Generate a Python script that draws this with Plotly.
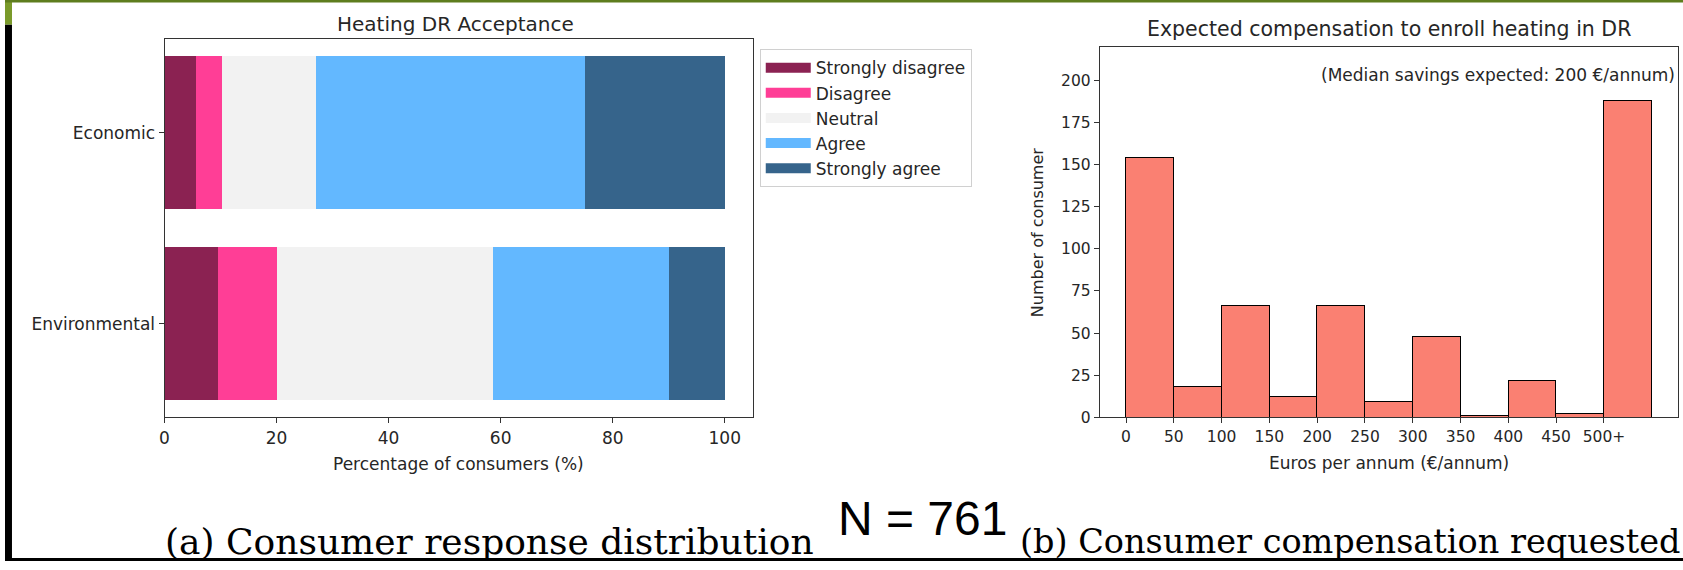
import plotly.graph_objects as go

# ---------------- data ----------------
statements = ["Environmental", "Economic"]
responses = ["Strongly disagree", "Disagree", "Neutral", "Agree", "Strongly agree"]
resp_colors = ["#8B2252", "#FF3E96", "#F2F2F2", "#63B8FF", "#36648B"]
# percentages, order: [Environmental, Economic]
strongly_disagree = [9.4, 5.5]
disagree = [10.6, 4.7]
neutral = [38.5, 16.8]
agree = [31.5, 48.0]
strongly_agree = [10.0, 25.0]
resp_values = [strongly_disagree, disagree, neutral, agree, strongly_agree]

bin_edges = [0, 50, 100, 150, 200, 250, 300, 350, 400, 450, 500, 550]
bin_counts = [154, 18, 66, 12, 66, 9, 48, 1, 22, 2, 188]
tick_vals = [0, 50, 100, 150, 200, 250, 300, 350, 400, 450, 500]
tick_text = ["0", "50", "100", "150", "200", "250", "300", "350", "400", "450", "500+"]
median_saving = 200
n_respondents = 761

W, H = 1683, 570
def px(x):
    return x / W
def py(y):
    return 1 - y / H

FONT = "DejaVu Sans"
TXT = "#262626"

fig = go.Figure()

for name, vals, col in zip(responses, resp_values, resp_colors):
    fig.add_trace(go.Bar(
        y=statements, x=vals, name=name, orientation="h",
        marker=dict(color=col, line=dict(width=0)), width=0.8,
        legendgroup=name, showlegend=False, xaxis="x", yaxis="y",
    ))
# legend entries (wide swatches like the original)
for name, col in zip(responses, resp_colors):
    fig.add_trace(go.Scatter(
        x=[None], y=[None], mode="lines", name=name, legendgroup=name,
        line=dict(color=col, width=12), xaxis="x", yaxis="y", hoverinfo="skip",
    ))

centers = [(bin_edges[i] + bin_edges[i + 1]) / 2 for i in range(len(bin_counts))]
widths = [bin_edges[i + 1] - bin_edges[i] for i in range(len(bin_counts))]
fig.add_trace(go.Bar(
    x=centers, y=bin_counts, width=widths, showlegend=False,
    marker=dict(color="#FA8072", line=dict(color="black", width=1.1)),
    xaxis="x2", yaxis="y2",
))

def axis_common(size):
    return dict(showline=True, linecolor="#333333", linewidth=1, mirror=True,
                ticks="outside", ticklen=5, tickcolor="#333333", showgrid=False,
                zeroline=False, tickfont=dict(family=FONT, size=size, color=TXT))

fig.update_layout(
    width=W, height=H,
    margin=dict(l=0, r=0, t=0, b=0),
    paper_bgcolor="white", plot_bgcolor="white",
    barmode="stack", bargap=0,
    font=dict(family=FONT, color=TXT),
    xaxis=dict(domain=[px(160), px(750)], range=[0, 105], tickvals=[0, 20, 40, 60, 80, 100],
               anchor="y", **axis_common(17)),
    yaxis=dict(domain=[py(424), py(40)], range=[-0.49, 1.49], type="category",
               categoryorder="array", categoryarray=statements, anchor="x", **axis_common(17)),
    xaxis2=dict(domain=[px(1098), px(1678)], range=[-27.5, 577.5], tickvals=tick_vals,
                ticktext=tick_text, anchor="y2", **axis_common(15.5)),
    yaxis2=dict(domain=[py(424), py(47.5)], range=[0, 220], dtick=25, anchor="x2",
                **axis_common(15.5)),
    legend=dict(x=px(757), y=py(50), xanchor="left", yanchor="top",
                bordercolor="#d0d0d0", borderwidth=1, bgcolor="white",
                font=dict(family=FONT, size=17, color=TXT),
                traceorder="normal", tracegroupgap=3, itemwidth=45),
    showlegend=True,
)

annos = [
    dict(text="Heating DR Acceptance", x=px(452), y=py(24), size=20),
    dict(text="Percentage of consumers (%)", x=px(455), y=py(471), size=17),
    dict(text="Expected compensation to enroll heating in DR", x=px(1388), y=py(29), size=20.5),
    dict(text="Euros per annum (€/annum)", x=px(1388), y=py(470), size=17),
]
for a in annos:
    fig.add_annotation(text=a["text"], x=a["x"], y=a["y"], xref="paper", yref="paper",
                       xanchor="center", yanchor="middle", showarrow=False,
                       font=dict(family=FONT, size=a["size"], color=TXT))
fig.add_annotation(text="Number of consumer", x=px(1035), y=py(236), xref="paper", yref="paper",
                   textangle=-90, showarrow=False, xanchor="center", yanchor="middle",
                   font=dict(family=FONT, size=16, color=TXT))
fig.add_annotation(text=f"(Median savings expected: {median_saving} €/annum)",
                   x=576, y=203, xref="x2", yref="y2", xanchor="right", yanchor="middle",
                   showarrow=False, font=dict(family=FONT, size=17, color=TXT))
fig.add_annotation(text=f"N = {n_respondents}", x=px(920), y=py(527), xref="paper", yref="paper",
                   showarrow=False, xanchor="center", yanchor="middle",
                   font=dict(family="Liberation Sans", size=48, color="black"))
fig.add_annotation(text="(a) Consumer response distribution", x=px(486), y=py(550),
                   xref="paper", yref="paper", showarrow=False, xanchor="center", yanchor="middle",
                   font=dict(family="DejaVu Serif", size=36, color="black"))
fig.add_annotation(text="(b) Consumer compensation requested", x=px(1350), y=py(550),
                   xref="paper", yref="paper", showarrow=False, xanchor="center", yanchor="middle",
                   font=dict(family="DejaVu Serif", size=33.5, color="black"))

# slide frame decoration
shapes = [
    dict(type="rect", xref="paper", yref="paper", x0=0, x1=px(7), y0=0, y1=py(25),
         fillcolor="black", line=dict(width=0), layer="below"),
    dict(type="rect", xref="paper", yref="paper", x0=0, x1=px(7), y0=py(25), y1=1,
         fillcolor="#7a9a2a", line=dict(width=0), layer="below"),
    dict(type="rect", xref="paper", yref="paper", x0=0, x1=1, y0=py(2.5), y1=1,
         fillcolor="#5e7d1e", line=dict(width=0), layer="below"),
    dict(type="rect", xref="paper", yref="paper", x0=0, x1=1, y0=0, y1=py(567),
         fillcolor="black", line=dict(width=0), layer="below"),
]
fig.update_layout(shapes=shapes)

fig.write_html("out.html", config={"displayModeBar": False},
               post_script="document.documentElement.style.margin='0';document.body.style.margin='0';")
